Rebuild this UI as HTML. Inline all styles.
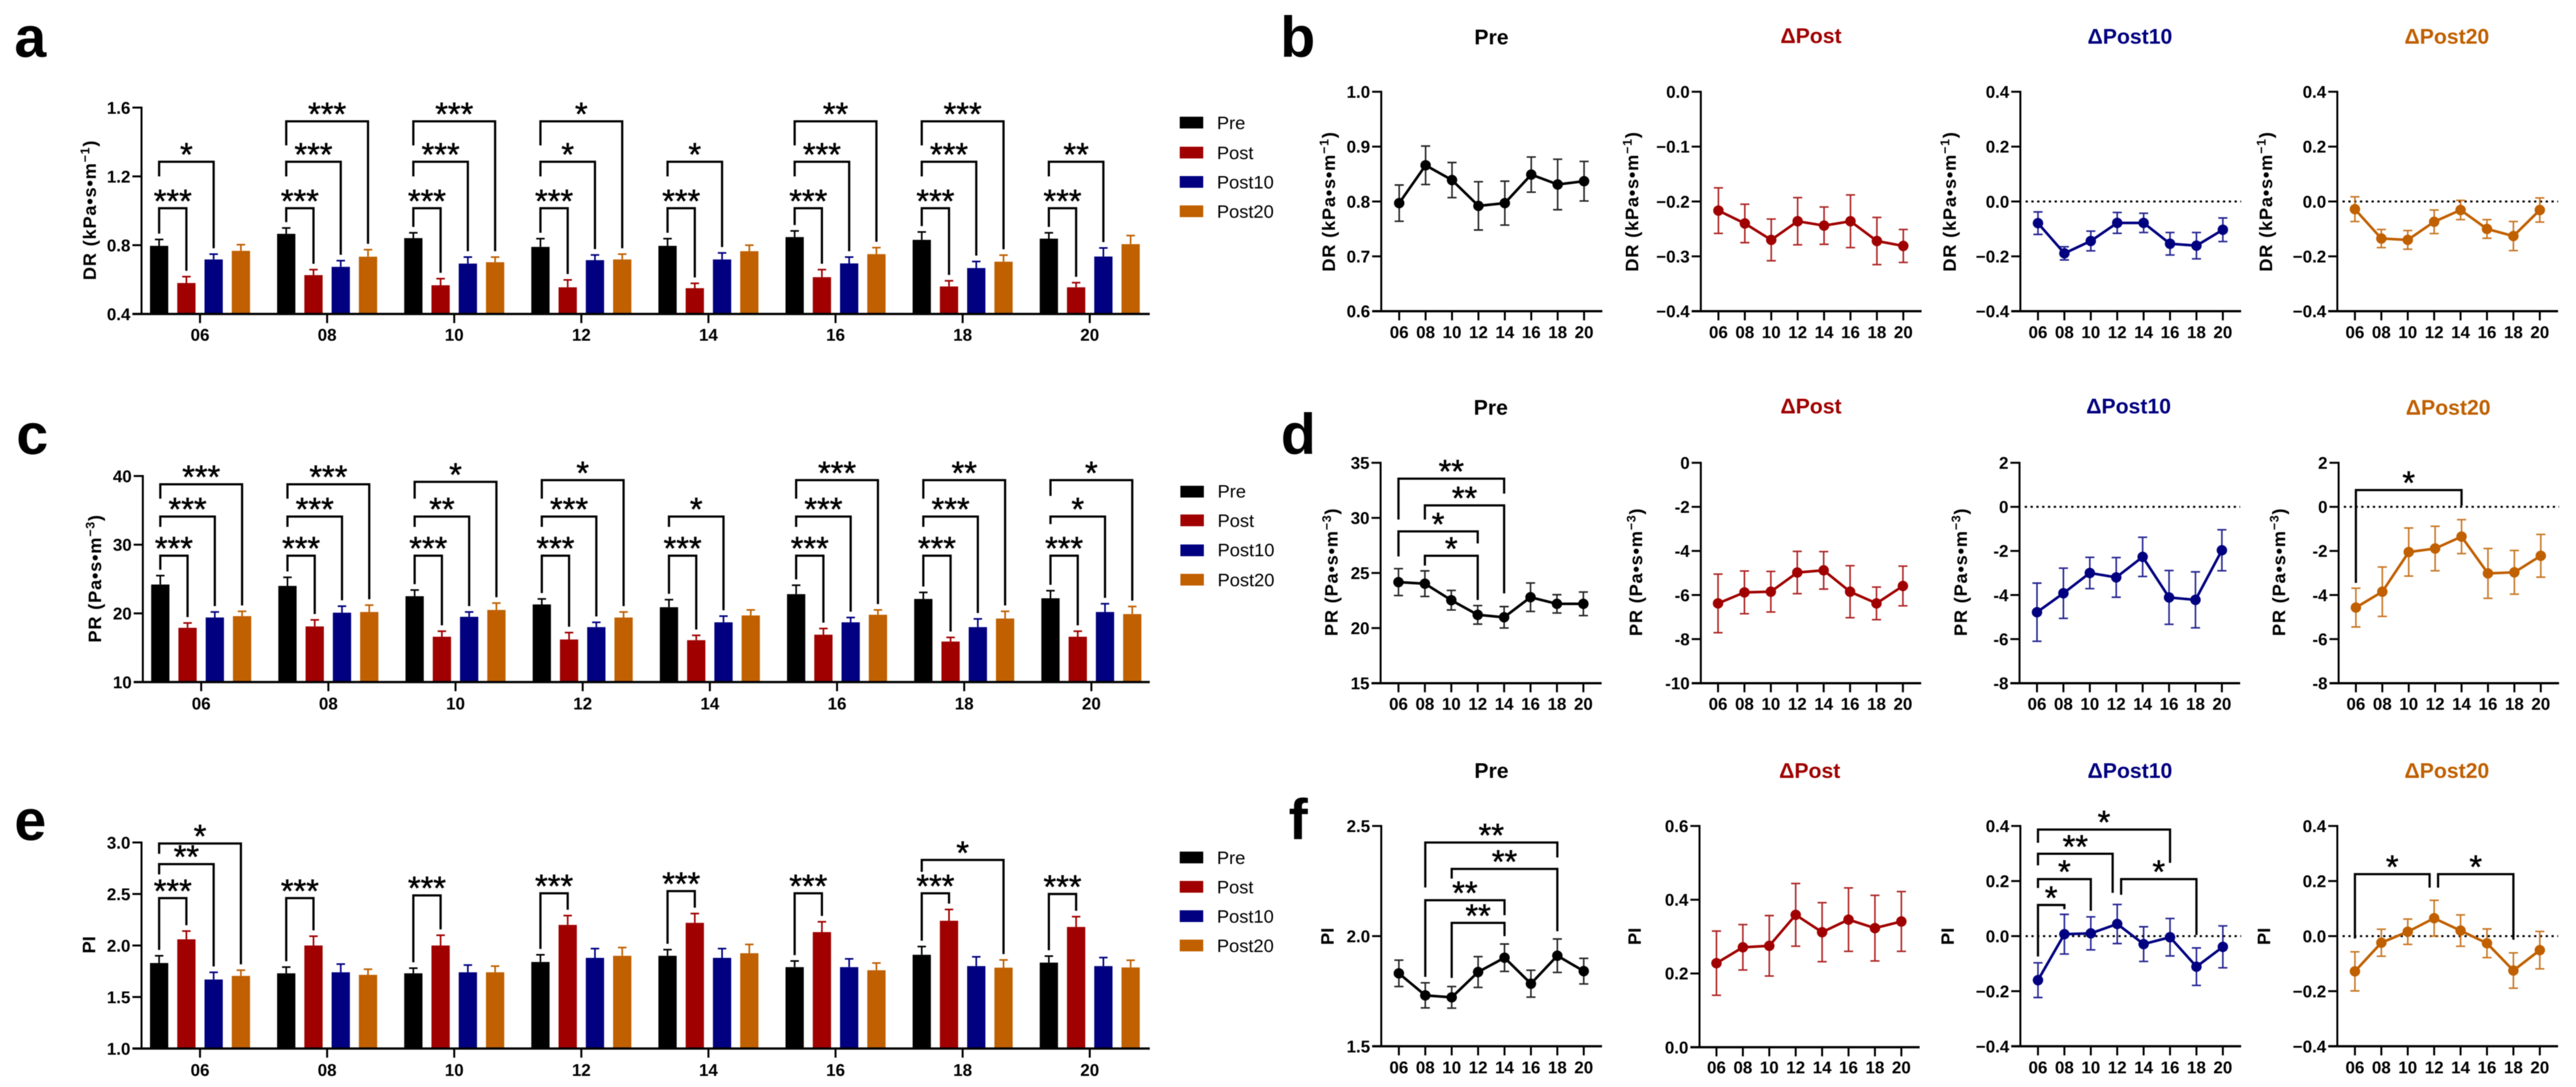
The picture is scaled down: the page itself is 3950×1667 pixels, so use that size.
<!DOCTYPE html>
<html lang="en">
<head>
<meta charset="utf-8">
<title>DR, PR and PI by hour</title>
<style>
html,body{margin:0;padding:0;background:#fff;width:3950px;height:1667px;overflow:hidden}
svg{display:block;filter:blur(.6px)}
text{font-family:"Liberation Sans",Arial,sans-serif;fill:#000}
.let{font-size:88px;font-weight:700}
.yt{font-size:28px;font-weight:700;text-anchor:middle}
text.yt:has(tspan){letter-spacing:1.2px}
.ct{font-size:32.5px;font-weight:700;text-anchor:middle}
.lg{font-size:28px}
.tk{font-size:26px;font-weight:700}
.st{font-size:50px;font-weight:400;text-anchor:middle;stroke:#000;stroke-width:.7px}
</style>
</head>
<body>
<svg id="figure" xmlns="http://www.w3.org/2000/svg" width="3950" height="1667" viewBox="0 0 3950 1667">
<rect width="3950" height="1667" fill="#fff"/>
<g>
<text class="let" x="22" y="87">a</text>
<text class="let" x="1963" y="87">b</text>
<text class="let" x="25" y="696">c</text>
<text class="let" x="1964" y="696">d</text>
<text class="let" x="22" y="1288">e</text>
<text class="let" x="1976" y="1287">f</text>
</g>
<g>
<text class="ct" x="2287" y="68">Pre</text>
<text class="ct" x="2777" y="66" style="fill:#a00000">ΔPost</text>
<text class="ct" x="3266" y="67" style="fill:#000080">ΔPost10</text>
<text class="ct" x="3752" y="67" style="fill:#c06000">ΔPost20</text>
<text class="ct" x="2286" y="636">Pre</text>
<text class="ct" x="2777" y="634" style="fill:#a00000">ΔPost</text>
<text class="ct" x="3264" y="634" style="fill:#000080">ΔPost10</text>
<text class="ct" x="3754" y="636" style="fill:#c06000">ΔPost20</text>
<text class="ct" x="2287" y="1193">Pre</text>
<text class="ct" x="2775" y="1193" style="fill:#a00000">ΔPost</text>
<text class="ct" x="3266" y="1193" style="fill:#000080">ΔPost10</text>
<text class="ct" x="3752" y="1193" style="fill:#c06000">ΔPost20</text>
</g>
<g>
<text class="yt" transform="translate(147,322) rotate(-90)">DR (kPa•s•m<tspan dy="-10" font-size="19">−1</tspan><tspan dy="10">)</tspan></text>
<text class="yt" transform="translate(155,887) rotate(-90)">PR (Pa•s•m<tspan dy="-10" font-size="19">−3</tspan><tspan dy="10">)</tspan></text>
<text class="yt" transform="translate(146,1449) rotate(-90)">PI</text>
<text class="yt" transform="translate(2047,309) rotate(-90)">DR (kPa•s•m<tspan dy="-10" font-size="19">−1</tspan><tspan dy="10">)</tspan></text>
<text class="yt" transform="translate(2512,309) rotate(-90)">DR (kPa•s•m<tspan dy="-10" font-size="19">−1</tspan><tspan dy="10">)</tspan></text>
<text class="yt" transform="translate(2999,309) rotate(-90)">DR (kPa•s•m<tspan dy="-10" font-size="19">−1</tspan><tspan dy="10">)</tspan></text>
<text class="yt" transform="translate(3484,309) rotate(-90)">DR (kPa•s•m<tspan dy="-10" font-size="19">−1</tspan><tspan dy="10">)</tspan></text>
<text class="yt" transform="translate(2051,877) rotate(-90)">PR (Pa•s•m<tspan dy="-10" font-size="19">−3</tspan><tspan dy="10">)</tspan></text>
<text class="yt" transform="translate(2518,877) rotate(-90)">PR (Pa•s•m<tspan dy="-10" font-size="19">−3</tspan><tspan dy="10">)</tspan></text>
<text class="yt" transform="translate(3016,877) rotate(-90)">PR (Pa•s•m<tspan dy="-10" font-size="19">−3</tspan><tspan dy="10">)</tspan></text>
<text class="yt" transform="translate(3504,877) rotate(-90)">PR (Pa•s•m<tspan dy="-10" font-size="19">−3</tspan><tspan dy="10">)</tspan></text>
<text class="yt" transform="translate(2045,1436) rotate(-90)">PI</text>
<text class="yt" transform="translate(2516,1436) rotate(-90)">PI</text>
<text class="yt" transform="translate(2996,1436) rotate(-90)">PI</text>
<text class="yt" transform="translate(3481,1436) rotate(-90)">PI</text>
</g>
<g>
<rect x="1809" y="179" width="36" height="18" fill="#000"/><text class="lg" x="1866" y="198">Pre</text>
<rect x="1809" y="225" width="36" height="18" fill="#a00000"/><text class="lg" x="1866" y="244">Post</text>
<rect x="1809" y="270" width="36" height="18" fill="#000080"/><text class="lg" x="1866" y="289">Post10</text>
<rect x="1809" y="315" width="36" height="18" fill="#c06000"/><text class="lg" x="1866" y="334">Post20</text>
</g>
<g>
<rect x="1810" y="745" width="36" height="18" fill="#000"/><text class="lg" x="1867" y="763">Pre</text>
<rect x="1810" y="789" width="36" height="18" fill="#a00000"/><text class="lg" x="1867" y="808">Post</text>
<rect x="1810" y="835" width="36" height="18" fill="#000080"/><text class="lg" x="1867" y="853">Post10</text>
<rect x="1810" y="880" width="36" height="18" fill="#c06000"/><text class="lg" x="1867" y="899">Post20</text>
</g>
<g>
<rect x="1809" y="1306" width="36" height="18" fill="#000"/><text class="lg" x="1866" y="1325">Pre</text>
<rect x="1809" y="1351" width="36" height="18" fill="#a00000"/><text class="lg" x="1866" y="1370">Post</text>
<rect x="1809" y="1396" width="36" height="18" fill="#000080"/><text class="lg" x="1866" y="1415">Post10</text>
<rect x="1809" y="1441" width="36" height="18" fill="#c06000"/><text class="lg" x="1866" y="1460">Post20</text>
</g>
</svg>
<script>
// ---------- shared categories ----------
var categories = ['06','08','10','12','14','16','18','20'];
var seriesNames = ['pre','post','post10','post20'];
var seriesColors = ['#000000','#a00000','#000080','#c06000'];

// ---------- panel a: DR bars ----------
var aTicks = [0.4,0.8,1.2,1.6];
var aPre = [.796,.866,.841,.79,.796,.847,.831,.838];
var aPreErr = [.037,.034,.031,.048,.042,.036,.046,.034];
var aPost = [.58,.626,.567,.555,.55,.614,.56,.555];
var aPostErr = [.037,.032,.038,.043,.028,.044,.033,.027];
var aP10 = [.717,.674,.693,.713,.717,.694,.667,.734];
var aP10Err = [.031,.036,.038,.03,.038,.037,.038,.05];
var aP20 = [.767,.733,.701,.717,.765,.748,.704,.806];
var aP20Err = [.036,.041,.03,.031,.035,.038,.038,.05];
// group, from series, to series, bracket top, left-leg end (null = above error bar), label
var aBrackets = [
 [0,0,1,1.015,null,'***'],[0,0,2,1.285,1.2,'*'],
 [1,0,1,1.015,null,'***'],[1,0,2,1.285,1.2,'***'],[1,0,3,1.52,1.38,'***'],
 [2,0,1,1.015,null,'***'],[2,0,2,1.285,1.2,'***'],[2,0,3,1.52,1.38,'***'],
 [3,0,1,1.015,null,'***'],[3,0,2,1.285,1.2,'*'],[3,0,3,1.52,1.38,'*'],
 [4,0,1,1.015,null,'***'],[4,0,2,1.285,1.2,'*'],
 [5,0,1,1.015,null,'***'],[5,0,2,1.285,1.2,'***'],[5,0,3,1.52,1.38,'**'],
 [6,0,1,1.015,null,'***'],[6,0,2,1.285,1.2,'***'],[6,0,3,1.52,1.38,'***'],
 [7,0,1,1.015,null,'***'],[7,0,2,1.285,1.2,'**']
];

// ---------- panel c: PR bars ----------
var cTicks = [10,20,30,40];
var cPre = [24.2,24.0,22.5,21.3,20.9,22.8,22.1,22.2];
var cPreErr = [1.3,1.25,.9,.8,1.1,1.3,.95,1.1];
var cPost = [17.9,18.1,16.6,16.2,16.1,16.9,15.9,16.6];
var cPostErr = [.7,.95,.8,1.0,.7,.9,.6,.8];
var cP10 = [19.4,20.1,19.5,18.0,18.7,18.7,18.0,20.2];
var cP10Err = [.8,.95,.7,.7,.9,.7,1.2,1.2];
var cP20 = [19.6,20.2,20.5,19.4,19.7,19.8,19.25,19.9];
var cP20Err = [.7,1.0,1.0,.8,.8,.7,1.05,1.1];
var cBrackets = [
 [0,0,1,28.4,null,'***'],[0,0,2,34.1,32.6,'***'],[0,0,3,38.8,36.7,'***'],
 [1,0,1,28.4,null,'***'],[1,0,2,34.1,32.6,'***'],[1,0,3,38.8,36.7,'***'],
 [2,0,1,28.4,null,'***'],[2,0,2,34.1,32.6,'**'],[2,0,3,39.15,36.7,'*'],
 [3,0,1,28.4,null,'***'],[3,0,2,34.1,32.6,'***'],[3,0,3,39.4,36.7,'*'],
 [4,0,1,28.4,null,'***'],[4,0,2,34.1,32.6,'*'],
 [5,0,1,28.4,null,'***'],[5,0,2,34.1,32.6,'***'],[5,0,3,39.4,36.7,'***'],
 [6,0,1,28.4,null,'***'],[6,0,2,34.1,32.6,'***'],[6,0,3,39.4,36.7,'**'],
 [7,0,1,28.4,null,'***'],[7,0,2,34.1,33,'*'],[7,0,3,39.4,37.1,'*']
];

// ---------- panel e: PI bars ----------
var eTicks = [1.0,1.5,2.0,2.5,3.0];
var ePre = [1.83,1.73,1.73,1.84,1.90,1.79,1.91,1.834];
var ePreErr = [.07,.06,.05,.07,.06,.06,.08,.063];
var ePost = [2.06,2.0,2.0,2.2,2.22,2.13,2.24,2.18];
var ePostErr = [.08,.09,.10,.09,.09,.10,.11,.10];
var eP10 = [1.67,1.74,1.74,1.88,1.88,1.79,1.80,1.80];
var eP10Err = [.07,.08,.07,.09,.09,.08,.09,.083];
var eP20 = [1.705,1.715,1.74,1.90,1.925,1.76,1.785,1.787];
var eP20Err = [.055,.055,.06,.08,.085,.07,.075,.07];
var eBrackets = [
 [0,0,1,2.46,null,'***'],[0,0,2,2.79,2.69,'**'],[0,0,3,2.99,2.89,'*'],
 [1,0,1,2.46,null,'***'],[2,0,1,2.486,null,'***'],[3,0,1,2.507,null,'***'],
 [4,0,1,2.528,null,'***'],[5,0,1,2.507,null,'***'],
 [6,0,1,2.507,null,'***'],[6,0,3,2.83,2.715,'*'],[7,0,1,2.5,null,'***']
];

// ---------- panel b: DR lines ----------
var bPreTicks = [.6,.7,.8,.9,1.0];
var bPostTicks = [-.4,-.3,-.2,-.1,0];
var bDeltaTicks = [-.4,-.2,0,.2,.4];
var bPre = [.797,.866,.839,.792,.797,.849,.831,.837];
var bPreErr = [.033,.035,.032,.044,.040,.032,.046,.036];
var bPost = [-.2166,-.24,-.27,-.236,-.244,-.236,-.272,-.281];
var bPostErr = [.0415,.035,.038,.043,.034,.048,.043,.03];
var bP10 = [-.079,-.189,-.144,-.078,-.078,-.154,-.161,-.103];
var bP10Err = [.041,.024,.036,.038,.035,.041,.048,.043];
var bP20 = [-.028,-.135,-.14,-.074,-.031,-.10,-.126,-.031];
var bP20Err = [.045,.033,.034,.043,.035,.034,.053,.044];

// ---------- panel d: PR lines ----------
var dPreTicks = [15,20,25,30,35];
var dPostTicks = [-10,-8,-6,-4,-2,0];
var dDeltaTicks = [-8,-6,-4,-2,0,2];
var dPre = [24.17,24.03,22.53,21.2,20.98,22.8,22.2,22.2];
var dPreErr = [1.22,1.16,.89,.84,.97,1.29,.83,1.07];
var dPost = [-6.38,-5.88,-5.85,-4.98,-4.88,-5.85,-6.38,-5.59];
var dPostErr = [1.33,.97,.92,.96,.85,1.18,.74,.90];
var dP10 = [-4.78,-3.92,-3.0,-3.2,-2.27,-4.11,-4.22,-1.97];
var dP10Err = [1.32,1.14,.71,.90,.89,1.22,1.27,.93];
var dP20 = [-4.57,-3.85,-2.05,-1.89,-1.35,-3.02,-2.97,-2.22];
var dP20Err = [.88,1.12,1.09,1.01,.77,1.13,.99,.97];
// from point, to point, bracket top, left-leg end, right-leg end, label
var dPreBrackets = [[1,3,26.56,25.67,22.55,'*'],[0,3,28.77,26.5,27.68,'*'],[1,4,31.13,29.85,23.15,'**'],[0,4,33.56,29.85,32.2,'**']];
var dP20Brackets = [[0,4,.76,-3.45,.05,'*']];

// ---------- panel f: PI lines ----------
var fPreTicks = [1.5,2.0,2.5];
var fPostTicks = [0,.2,.4,.6];
var fDeltaTicks = [-.4,-.2,0,.2,.4];
var fPre = [1.831,1.731,1.722,1.837,1.902,1.784,1.911,1.841];
var fPreErr = [.06,.057,.049,.07,.062,.061,.076,.058];
var fPost = [.228,.271,.275,.359,.312,.346,.323,.341];
var fPostErr = [.087,.0615,.082,.085,.08,.086,.089,.081];
var fP10 = [-.16,.007,.01,.044,-.029,-.004,-.111,-.039];
var fP10Err = [.063,.072,.06,.071,.063,.068,.068,.076];
var fP20 = [-.128,-.024,.016,.065,.02,-.026,-.125,-.051];
var fP20Err = [.071,.049,.046,.065,.057,.052,.064,.068];
var fPreBrackets = [[2,4,2.06,1.81,2.0,'**'],[1,4,2.163,1.815,2.095,'**'],[2,6,2.305,2.261,2.022,'**'],[1,6,2.425,2.221,2.357,'**']];
var fP10Brackets = [[0,1,.113,-.074,.098,'*'],[0,2,.207,.175,.092,'*'],[0,3,.299,.257,.157,'**'],[0,5,.387,.339,.266,'*'],[3,6,.207,.15,.004,'*']];
var fP20Brackets = [[0,3,.225,-.009,.176,'*'],[3,6,.225,.176,-.013,'*']];

var SVGNS = 'http://www.w3.org/2000/svg';
var root = document.getElementById('figure');

function make(tag, attrs, parent) {
  var node = document.createElementNS(SVGNS, tag);
  for (var k in attrs) node.setAttribute(k, attrs[k]);
  parent.appendChild(node);
  return node;
}
function makeScale(ticks, top, bottom) {
  var lo = ticks[0], hi = ticks[ticks.length - 1];
  return function (v) { return top + (hi - v) / (hi - lo) * (bottom - top); };
}
function fmt(v, dec, minus) {
  var s = Math.abs(v).toFixed(dec);
  return (v < 0 ? minus : '') + s;
}
function drawSegment(parent, x1, y1, x2, y2, color, w) {
  return make('line', {x1:x1, y1:y1, x2:x2, y2:y2, stroke:color, 'stroke-width':w}, parent);
}
function drawYAxis(parent, cfg, y) {
  var ax = make('line', {x1:cfg.axisX, y1:cfg.top - 1.5, x2:cfg.axisX, y2:cfg.bottom, stroke:'#000', 'stroke-width':3}, parent);
  
  
  cfg.ticks.forEach(function (t) {
    var tk = drawSegment(parent, cfg.axisX - 14, y(t), cfg.axisX, y(t), '#000', 3);
    
    
    var lb = make('text', {x:cfg.axisX - 17, y:y(t) + 9.3, 'text-anchor':'end', 'class':'tk'}, parent);
    
    
    lb.textContent = fmt(t, cfg.dec, cfg.minus);
  });
}
function drawXTick(parent, x, bottom, baseline, label) {
  var tk = drawSegment(parent, x, bottom, x, bottom + 14, '#000', 3);
  
  
  var lb = make('text', {x:x, y:baseline, 'text-anchor':'middle', 'class':'tk'}, parent);
  
  
  lb.textContent = label;
}
function drawBracket(parent, x1, x2, yTop, yLeft, yRight, label) {
  var br = make('path', {d:'M' + x1 + ' ' + yLeft + 'V' + yTop + 'H' + x2 + 'V' + yRight, fill:'none', stroke:'#000', 'stroke-width':3.4}, parent);
  
  
  var st = make('text', {x:(x1 + x2) / 2, y:yTop + 6, 'class':'st'}, parent);
  
  
  st.textContent = label;
}

function barPanel(cfg) {
  var g = make('g', {}, root);
  
  
  var y = makeScale(cfg.ticks, cfg.top, cfg.bottom);
  var slot = 41.8, barW = 28;
  var groupX = function (i) { return cfg.tick0 + i * cfg.spacing; };
  var barX = function (i, s) { return groupX(i) + (s - 1.5) * slot; };

  cfg.values.forEach(function (vals, s) {
    vals.forEach(function (v, i) {
      var x = barX(i, s), top = y(v), errTop = y(v + cfg.errors[s][i]);
      var eb = make('path', {d:'M' + x + ' ' + top + 'V' + errTop + 'M' + (x - 6.5) + ' ' + errTop + 'H' + (x + 6.5), fill:'none', stroke:seriesColors[s], 'stroke-width':2.5}, g);
      
      
      var r = make('rect', {x:x - barW / 2, y:top, width:barW, height:cfg.bottom - top, fill:seriesColors[s]}, g);
      
      
    });
  });

  var xa = drawSegment(g, cfg.axisX - 14, cfg.bottom, cfg.xEnd, cfg.bottom, '#000', 3.5);
  
  
  drawYAxis(g, cfg, y);
  categories.forEach(function (c, i) { drawXTick(g, groupX(i), cfg.bottom, cfg.labelY, c); });

  cfg.brackets.forEach(function (b) {
    var group = b[0], from = b[1], to = b[2];
    var x1 = barX(group, from), x2 = barX(group, to);
    var yLeft = b[4] === null ? y(cfg.values[from][group] + cfg.errors[from][group]) - 9 : y(b[4]);
    var yRight = y(cfg.values[to][group] + cfg.errors[to][group]) - 9;
    drawBracket(g, x1, x2, y(b[3]), yLeft, yRight, b[5]);
  });
}

function linePanel(cfg) {
  var g = make('g', {}, root);
  
  
  var y = makeScale(cfg.ticks, cfg.top, cfg.bottom);
  var x = function (i) { return cfg.first + i * 40.5; };
  var xEnd = x(7) + 28;

  if (cfg.zero) {
    var z = drawSegment(g, cfg.axisX + 8, y(0), xEnd, y(0), '#000', 3);
    z.setAttribute('stroke-dasharray', '3.5 5.4');
    
    
  }
  var xa = drawSegment(g, cfg.axisX - 14, cfg.bottom, xEnd, cfg.bottom, '#000', 3.5);
  
  
  drawYAxis(g, cfg, y);
  categories.forEach(function (c, i) { drawXTick(g, x(i), cfg.bottom, cfg.labelY, c); });

  var brackets = cfg.brackets || [];
  brackets.forEach(function (b) {
    var shiftTo = brackets.some(function (o) { return o[0] === b[1]; }) ? -7 : 0;
    var shiftFrom = brackets.some(function (o) { return o[1] === b[0]; }) ? 6 : 0;
    drawBracket(g, x(b[0]) + shiftFrom, x(b[1]) + shiftTo, y(b[2]), y(b[3]), y(b[4]), b[5]);
  });

  cfg.values.forEach(function (v, i) {
    var hi = y(v + cfg.errors[i]), lo = y(v - cfg.errors[i]), px = x(i);
    var eb = make('path', {d:'M' + px + ' ' + hi + 'V' + lo + 'M' + (px - 7) + ' ' + hi + 'H' + (px + 7) + 'M' + (px - 7) + ' ' + lo + 'H' + (px + 7), fill:'none', stroke:cfg.color, 'stroke-width':2.4, 'stroke-opacity':.85}, g);
    
    
  });
  var pts = cfg.values.map(function (v, i) { return x(i) + ',' + y(v); }).join(' ');
  var ln = make('polyline', {points:pts, fill:'none', stroke:cfg.color, 'stroke-width':4, 'stroke-linejoin':'round'}, g);
  
  
  cfg.values.forEach(function (v, i) {
    var c = make('circle', {cx:x(i), cy:y(v), r:8, fill:cfg.color}, g);
    
    
  });
}

barPanel({name:'panel-a-dr-bars', ticks:aTicks, dec:1, minus:'−', top:165, bottom:481.5, axisX:217, tick0:306.7, spacing:194.9, xEnd:1763, labelY:522.7,
  values:[aPre,aPost,aP10,aP20], errors:[aPreErr,aPostErr,aP10Err,aP20Err], brackets:aBrackets});
barPanel({name:'panel-c-pr-bars', ticks:cTicks, dec:0, minus:'−', top:730, bottom:1046, axisX:219, tick0:308.5, spacing:195, xEnd:1763, labelY:1088,
  values:[cPre,cPost,cP10,cP20], errors:[cPreErr,cPostErr,cP10Err,cP20Err], brackets:cBrackets});
barPanel({name:'panel-e-pi-bars', ticks:eTicks, dec:1, minus:'−', top:1292, bottom:1608, axisX:217, tick0:306.7, spacing:194.9, xEnd:1763, labelY:1650,
  values:[ePre,ePost,eP10,eP20], errors:[ePreErr,ePostErr,eP10Err,eP20Err], brackets:eBrackets});

linePanel({name:'panel-b-pre', ticks:bPreTicks, dec:1, minus:'−', top:140.7, bottom:477.3, axisX:2118, first:2145.5, labelY:518.5, color:seriesColors[0], values:bPre, errors:bPreErr});
linePanel({name:'panel-b-delta-post', ticks:bPostTicks, dec:1, minus:'−', top:140.7, bottom:477.3, axisX:2608, first:2635, labelY:518.5, color:seriesColors[1], values:bPost, errors:bPostErr});
linePanel({name:'panel-b-delta-post10', ticks:bDeltaTicks, dec:1, minus:'−', top:140.7, bottom:477.3, axisX:3098, first:3125, labelY:518.5, color:seriesColors[2], values:bP10, errors:bP10Err, zero:true});
linePanel({name:'panel-b-delta-post20', ticks:bDeltaTicks, dec:1, minus:'−', top:140.7, bottom:477.3, axisX:3584, first:3611, labelY:518.5, color:seriesColors[3], values:bP20, errors:bP20Err, zero:true});

linePanel({name:'panel-d-pre', ticks:dPreTicks, dec:0, minus:'-', top:709.7, bottom:1047.7, axisX:2117, first:2144.4, labelY:1088.3, color:seriesColors[0], values:dPre, errors:dPreErr, brackets:dPreBrackets});
linePanel({name:'panel-d-delta-post', ticks:dPostTicks, dec:0, minus:'-', top:709.7, bottom:1047.7, axisX:2608, first:2634.4, labelY:1088.3, color:seriesColors[1], values:dPost, errors:dPostErr});
linePanel({name:'panel-d-delta-post10', ticks:dDeltaTicks, dec:0, minus:'-', top:709.7, bottom:1047.7, axisX:3096.7, first:3123.5, labelY:1088.3, color:seriesColors[2], values:dP10, errors:dP10Err, zero:true});
linePanel({name:'panel-d-delta-post20', ticks:dDeltaTicks, dec:0, minus:'-', top:709.7, bottom:1047.7, axisX:3586, first:3612.5, labelY:1088.3, color:seriesColors[3], values:dP20, errors:dP20Err, zero:true, brackets:dP20Brackets});

linePanel({name:'panel-f-pre', ticks:fPreTicks, dec:1, minus:'−', top:1266.7, bottom:1604.5, axisX:2118, first:2145, labelY:1646, color:seriesColors[0], values:fPre, errors:fPreErr, brackets:fPreBrackets});
linePanel({name:'panel-f-delta-post', ticks:fPostTicks, dec:1, minus:'−', top:1266.7, bottom:1606, axisX:2606, first:2632, labelY:1646, color:seriesColors[1], values:fPost, errors:fPostErr});
linePanel({name:'panel-f-delta-post10', ticks:fDeltaTicks, dec:1, minus:'−', top:1266.7, bottom:1604.5, axisX:3098, first:3125, labelY:1646, color:seriesColors[2], values:fP10, errors:fP10Err, zero:true, brackets:fP10Brackets});
linePanel({name:'panel-f-delta-post20', ticks:fDeltaTicks, dec:1, minus:'−', top:1266.7, bottom:1604.5, axisX:3584, first:3611, labelY:1646, color:seriesColors[3], values:fP20, errors:fP20Err, zero:true, brackets:fP20Brackets});
</script>
</body>
</html>
